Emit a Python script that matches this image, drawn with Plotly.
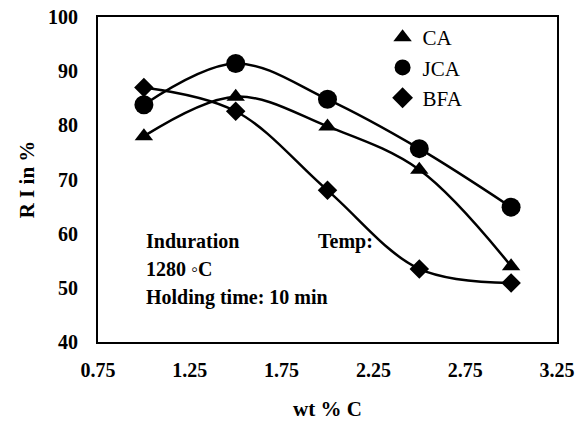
import plotly.graph_objects as go

x_vals = [1.0, 1.5, 2.0, 2.5, 3.0]
ca = [78.0, 85.3, 79.8, 71.8, 54.0]
jca = [83.8, 91.4, 84.8, 75.7, 64.9]
bfa = [87.0, 82.6, 68.0, 53.5, 50.9]
series_names = ["CA", "JCA", "BFA"]
x_ticks = [0.75, 1.25, 1.75, 2.25, 2.75, 3.25]
y_ticks = [40, 50, 60, 70, 80, 90, 100]

FONT = "Liberation Serif, Times New Roman, serif"

fig = go.Figure()
symbols = ["triangle-up", "circle", "diamond"]
sizes = [16, 19, 15]
for name, ys, sym, sz in zip(series_names, [ca, jca, bfa], symbols, sizes):
    fig.add_trace(go.Scatter(
        x=x_vals, y=ys, name=name, mode="lines+markers", showlegend=False,
        line=dict(color="black", width=2.5, shape="spline", smoothing=1.0),
        marker=dict(symbol=sym, size=sz, color="black"),
    ))
# legend entries (markers only, like the reference)
for name, sym in zip(series_names, symbols):
    fig.add_trace(go.Scatter(
        x=[None], y=[None], name=name, mode="markers",
        marker=dict(symbol=sym, size=16, color="black"),
    ))

ann_font = dict(family=FONT, size=20, color="black")
fig.add_annotation(x=1.0, y=58.6, xref="x", yref="y", xanchor="left", yanchor="middle",
                   text="<b>Induration</b>", showarrow=False, font=ann_font)
fig.add_annotation(x=1.935, y=58.6, xref="x", yref="y", xanchor="left", yanchor="middle",
                   text="<b>Temp:</b>", showarrow=False, font=ann_font)
fig.add_annotation(x=1.0, y=53.4, xref="x", yref="y", xanchor="left", yanchor="middle",
                   text="<b>1280 ◦C</b>", showarrow=False, font=ann_font)
fig.add_annotation(x=1.0, y=48.2, xref="x", yref="y", xanchor="left", yanchor="middle",
                   text="<b>Holding time: 10 min</b>", showarrow=False, font=ann_font)

fig.update_layout(
    width=584, height=421,
    margin=dict(l=98, r=27, t=17, b=79, autoexpand=False),
    paper_bgcolor="white", plot_bgcolor="white",
    font=dict(family=FONT, size=20, color="black"),
    showlegend=True,
    legend=dict(x=0.62, y=1.0, xanchor="left", yanchor="top",
                bgcolor="rgba(0,0,0,0)", font=dict(family=FONT, size=21, color="black"),
                itemsizing="trace", tracegroupgap=0),
    xaxis=dict(range=[0.75, 3.25], tickvals=x_ticks, automargin=False,
               ticktext=[f"<b>{t:.2f}</b>" for t in x_ticks],
               tickfont=dict(family=FONT, size=20), ticklabelstandoff=9,
               showgrid=False, zeroline=False, showline=True, linecolor="black",
               linewidth=2, mirror=True, ticks="",
               title=dict(text="<b>wt % C</b>", font=dict(family=FONT, size=21), standoff=22)),
    yaxis=dict(range=[40, 100], tickvals=y_ticks, automargin=False,
               ticktext=[f"<b>{t}</b>" for t in y_ticks],
               tickfont=dict(family=FONT, size=20), ticklabelstandoff=14,
               showgrid=False, zeroline=False, showline=True, linecolor="black",
               linewidth=2, mirror=True, ticks="",
               title=dict(text="<b>R I in %</b>", font=dict(family=FONT, size=21), standoff=8)),
)

fig.write_html("out.html")
